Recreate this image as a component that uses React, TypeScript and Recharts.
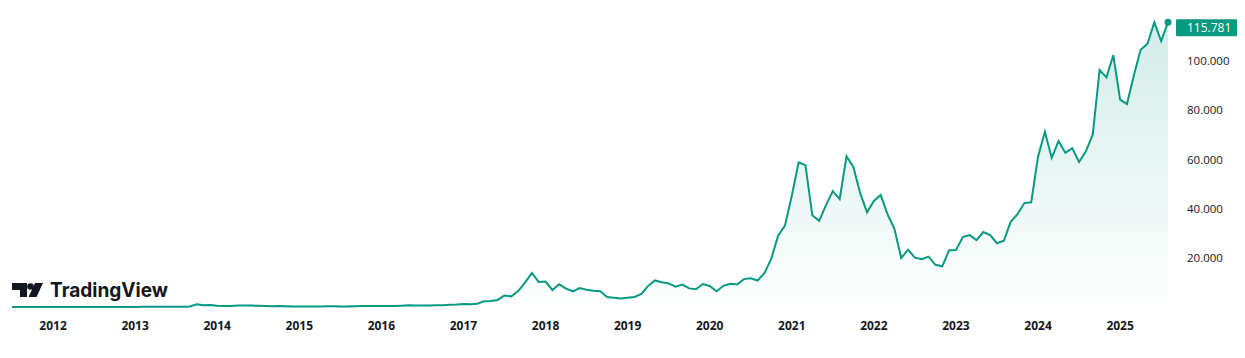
import { Area, AreaChart, ReferenceDot, XAxis, YAxis } from "recharts"

const GREEN = "#089981"
const INK = "#131722"

const monthNames = ["Jan", "Feb", "Mar", "Apr", "May", "Jun", "Jul", "Aug", "Sep", "Oct", "Nov", "Dec"]

// monthly closes, USD
const p2011 = [8.2, 5.1, 3.25, 3.0, 4.7] // Aug..Dec
const p2012 = [5.5, 4.9, 4.9, 5.0, 5.2, 6.7, 9.3, 10.0, 12.4, 11.2, 12.6, 13.5]
const p2013 = [20.4, 33.4, 93, 139, 129, 97, 106, 135, 133, 198, 1120, 732]
const p2014 = [800, 550, 450, 447, 628, 640, 585, 478, 387, 338, 378, 320]
const p2015 = [217, 254, 244, 236, 230, 263, 284, 230, 236, 314, 377, 430]
const p2016 = [368, 437, 416, 448, 531, 673, 624, 575, 609, 698, 742, 963]
const p2017 = [970, 1190, 1080, 1348, 2300, 2480, 2875, 4700, 4340, 6450, 9950, 13860]
const p2018 = [10220, 10330, 6930, 9240, 7500, 6390, 7730, 7030, 6630, 6370, 4020, 3740]
const p2019 = [3460, 3810, 4100, 5320, 8560, 10800, 10080, 9600, 8300, 9150, 7570, 7190]
const p2020 = [9350, 8540, 6410, 8630, 9460, 9140, 11350, 11660, 10780, 13800, 19700, 28990]
const p2021 = [33110, 45240, 58800, 57720, 37300, 35040, 41460, 47130, 43820, 61300, 57000, 46300]
const p2022 = [38480, 43160, 45540, 37710, 31790, 19940, 23300, 20050, 19430, 20490, 17170, 16540]
const p2023 = [23130, 23150, 28480, 29250, 27220, 30480, 29230, 25940, 26960, 34660, 37720, 42270]
const p2024 = [42580, 61130, 71290, 60640, 67490, 62680, 64620, 58970, 63330, 70200, 96400, 93430]
const p2025 = [102400, 84350, 82550, 94200, 104600, 107100, 115800, 108200, 115781] // ..Sep

const years = [2011, 2012, 2013, 2014, 2015, 2016, 2017, 2018, 2019, 2020, 2021, 2022, 2023, 2024, 2025]
const pricesByYear = [p2011, p2012, p2013, p2014, p2015, p2016, p2017, p2018, p2019, p2020, p2021, p2022, p2023, p2024, p2025]
const firstMonth = 7 // series starts in Aug 2011

const yTicks = [20000, 40000, 60000, 80000, 100000]

const data = years
  .flatMap((year, yi) =>
    pricesByYear[yi].map((price, i) => {
      const m = yi === 0 ? firstMonth + i : i
      return { label: `${monthNames[m]} ${year}`, year, m, price }
    })
  )
  .map((d, t) => ({ ...d, t }))

const last = data[data.length - 1]

// year labels sit one bar after the January bar
const yearTicks = data.filter((d) => d.m === 0).map((d) => d.t + 1)

const fmt = (v: number) => {
  const s = Math.round(v).toString()
  return s.replace(/\B(?=(\d{3})+(?!\d))/g, ".")
}

const LastPrice = (props: any) => {
  const { cx, cy } = props
  return (
    <g>
      <circle cx={cx} cy={cy} r={3.5} fill={GREEN} />
      <rect x={cx + 8} y={cy - 3} width={61} height={17} fill={GREEN} rx={1} />
      <text x={cx + 19} y={cy + 9.5} fill="#ffffff" fontSize={12}>
        {fmt(last.price)}
      </text>
    </g>
  )
}

export default function App() {
  return (
    <div style={{ position: "absolute", left: 0, top: 0, width: 1245, height: 358, fontFamily: "'Open Sans', sans-serif", background: "#fff" }}>
      <AreaChart width={1245} height={358} data={data} margin={{ top: 12, right: 0, left: 12, bottom: 21 }}>
        <defs>
          <linearGradient id="btcFill" x1="0" y1="0" x2="0" y2="1">
            <stop offset="0%" stopColor={GREEN} stopOpacity={0.3} />
            <stop offset="100%" stopColor={GREEN} stopOpacity={0.01} />
          </linearGradient>
        </defs>
        <XAxis
          dataKey="t"
          type="number"
          domain={[0, data.length - 1]}
          ticks={yearTicks}
          interval={0}
          tickFormatter={(v: number) => String(data[v - 1].year)}
          axisLine={false}
          tickLine={false}
          tickMargin={8}
          height={30}
          tick={{ fill: INK, fontSize: 12, fontWeight: 700 }}
        />
        <YAxis
          orientation="right"
          domain={[0, 120000]}
          ticks={yTicks}
          tickFormatter={fmt}
          axisLine={false}
          tickLine={false}
          tickMargin={13}
          width={77}
          tick={{ fill: INK, fontSize: 11.5 }}
        />
        <Area
          type="linear"
          dataKey="price"
          stroke={GREEN}
          strokeWidth={2}
          fill="url(#btcFill)"
          dot={false}
          activeDot={false}
          isAnimationActive={false}
        />
        <ReferenceDot x={last.t} y={last.price} shape={<LastPrice />} />
      </AreaChart>
      <svg width={1245} height={358} style={{ position: "absolute", left: 0, top: 0, pointerEvents: "none" }}>
        <path d="M12 283 H27 V297 H20 V290 H12 Z" fill={INK} />
        <circle cx={30.5} cy={286.5} r={3.3} fill={INK} />
        <path d="M35 283 H43 L36.5 297 H28.5 Z" fill={INK} />
        <text x={50} y={297} fontFamily="Inter, sans-serif" fontWeight={700} fontSize={20} textLength={118} lengthAdjust="spacingAndGlyphs" fill={INK}>
          TradingView
        </text>
      </svg>
    </div>
  )
}
